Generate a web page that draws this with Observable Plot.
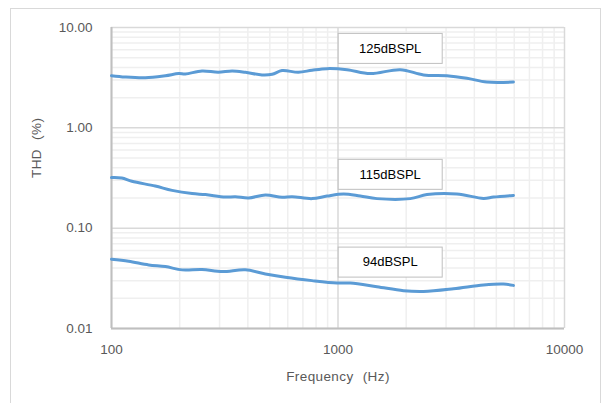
<!DOCTYPE html>
<html>
<head>
<meta charset="utf-8">
<script src="https://cdn.jsdelivr.net/npm/d3@7"></script>
<script src="https://cdn.jsdelivr.net/npm/@observablehq/plot@0.6"></script>
<style>
  html, body { margin: 0; padding: 0; background: #fff; }
  #wrap { position: relative; width: 603px; height: 403px; overflow: hidden; }
  #frame { position: absolute; left: 10px; top: 8px; width: 591px; height: 420px; border: 1px solid #d9d9d9; box-sizing: border-box; }
  #chart { position: absolute; left: 0; top: 0; }
</style>
</head>
<body>
<div id="wrap"><div id="frame"></div><div id="chart"></div></div>
<script>
// Frequency (Hz) and THD (%) for each level
const freq125 = [100,115,141,173,198,212,251,296,341,390,462,512,566,668,768,894,1096,1388,1883,2386,3027,3707,4541,5950];
const thd125  = [3.31,3.21,3.16,3.31,3.47,3.44,3.69,3.58,3.69,3.58,3.37,3.42,3.72,3.58,3.75,3.89,3.80,3.47,3.80,3.37,3.31,3.12,2.86,2.86];

const freq115 = [100,111,123,156,185,227,260,318,352,403,478,566,627,768,894,1059,1254,1486,2084,2470,3349,4388,4858,5950];
const thd115  = [0.319,0.316,0.293,0.263,0.238,0.221,0.216,0.204,0.206,0.200,0.214,0.203,0.206,0.197,0.209,0.219,0.209,0.197,0.197,0.216,0.219,0.198,0.204,0.212];

const freq94 = [100,119,146,173,205,251,308,390,478,586,768,990,1133,1486,1947,2386,3236,4388,5375,5950];
const thd94  = [0.049,0.0468,0.043,0.0414,0.0384,0.0387,0.0369,0.0384,0.035,0.0324,0.0300,0.0284,0.0284,0.0261,0.0238,0.0234,0.0249,0.0272,0.0278,0.0269];

// Series labels and their anchor positions (data units)
const labels = ["125dBSPL", "115dBSPL", "94dBSPL"];
const labelFreq = [1700, 1700, 1700];
const labelThd = [6.19, 0.344, 0.0459];

// Tick values
const xMajor = [100, 1000, 10000];
const yMajor = [0.01, 0.1, 1, 10];
const xMinor = [200,300,400,500,600,700,800,900,2000,3000,4000,5000,6000,7000,8000,9000];
const yMinor = [0.02,0.03,0.04,0.05,0.06,0.07,0.08,0.09,0.2,0.3,0.4,0.5,0.6,0.7,0.8,0.9,2,3,4,5,6,7,8,9];

const series = [
  ...freq125.map((f, i) => ({level: "125", f, thd: thd125[i]})),
  ...freq115.map((f, i) => ({level: "115", f, thd: thd115[i]})),
  ...freq94.map((f, i) => ({level: "94", f, thd: thd94[i]}))
];
const labelRows = labels.map((t, i) => ({t, f: labelFreq[i], thd: labelThd[i]}));

const font = "'Liberation Sans', Arial, sans-serif";

const chart = Plot.plot({
  width: 603,
  height: 403,
  marginLeft: 111,
  marginRight: 39,
  marginTop: 27,
  marginBottom: 75,
  style: {fontFamily: font, fontSize: "13.5px", background: "transparent", color: "#595959"},
  x: {type: "log", domain: [100, 10000]},
  y: {type: "log", domain: [0.01, 10]},
  marks: [
    Plot.ruleX(xMinor, {stroke: "#efefef", strokeWidth: 1.5}),
    Plot.ruleY(yMinor, {stroke: "#efefef", strokeWidth: 1.5}),
    Plot.ruleX(xMajor, {stroke: "#d9d9d9", strokeWidth: 1.5}),
    Plot.ruleY(yMajor, {stroke: "#d9d9d9", strokeWidth: 1.5}),
    Plot.ruleX([100], {stroke: "#bfbfbf", strokeWidth: 2}),
    Plot.ruleY([0.01], {stroke: "#bfbfbf", strokeWidth: 2}),
    Plot.axisX(xMajor, {tickSize: 0, tickPadding: 16, tickFormat: d => String(d), label: null, fill: "#595959"}),
    Plot.axisY(yMajor, {tickSize: 0, tickPadding: 19, tickFormat: d3.format(".2f"), label: null, fill: "#595959"}),
    Plot.line(series, {x: "f", y: "thd", z: "level", stroke: "#5b9bd5", strokeWidth: 3, curve: "catmull-rom"}),
    Plot.text(labelRows, {
      x: "f", y: "thd", text: "t", fill: "#000", fontSize: 13,
      render(index, scales, values, dimensions, context, next) {
        const g = next(index, scales, values, dimensions, context);
        const ns = "http://www.w3.org/2000/svg";
        const boxes = document.createElementNS(ns, "g");
        for (const i of index) {
          const r = document.createElementNS(ns, "rect");
          r.setAttribute("x", values.x[i] - 52);
          r.setAttribute("y", values.y[i] - 15);
          r.setAttribute("width", 104);
          r.setAttribute("height", 30);
          r.setAttribute("fill", "#fff");
          r.setAttribute("stroke", "#bfbfbf");
          r.setAttribute("stroke-width", 1);
          boxes.appendChild(r);
        }
        g.insertBefore(boxes, g.firstChild);
        return g;
      }
    }),
    Plot.text(["THD (%)"], {frameAnchor: "left", dx: -75, rotate: -90, fill: "#595959", fontSize: 13.5}),
    Plot.text(["Frequency (Hz)"], {frameAnchor: "bottom", dy: 52, fill: "#595959", fontSize: 13.5})
  ]
});
d3.select(chart).selectAll("text").filter(function() { return this.textContent.includes("("); })
  .style("word-spacing", "5px").style("letter-spacing", "0.4px");
document.getElementById("chart").appendChild(chart);
</script>
</body>
</html>
